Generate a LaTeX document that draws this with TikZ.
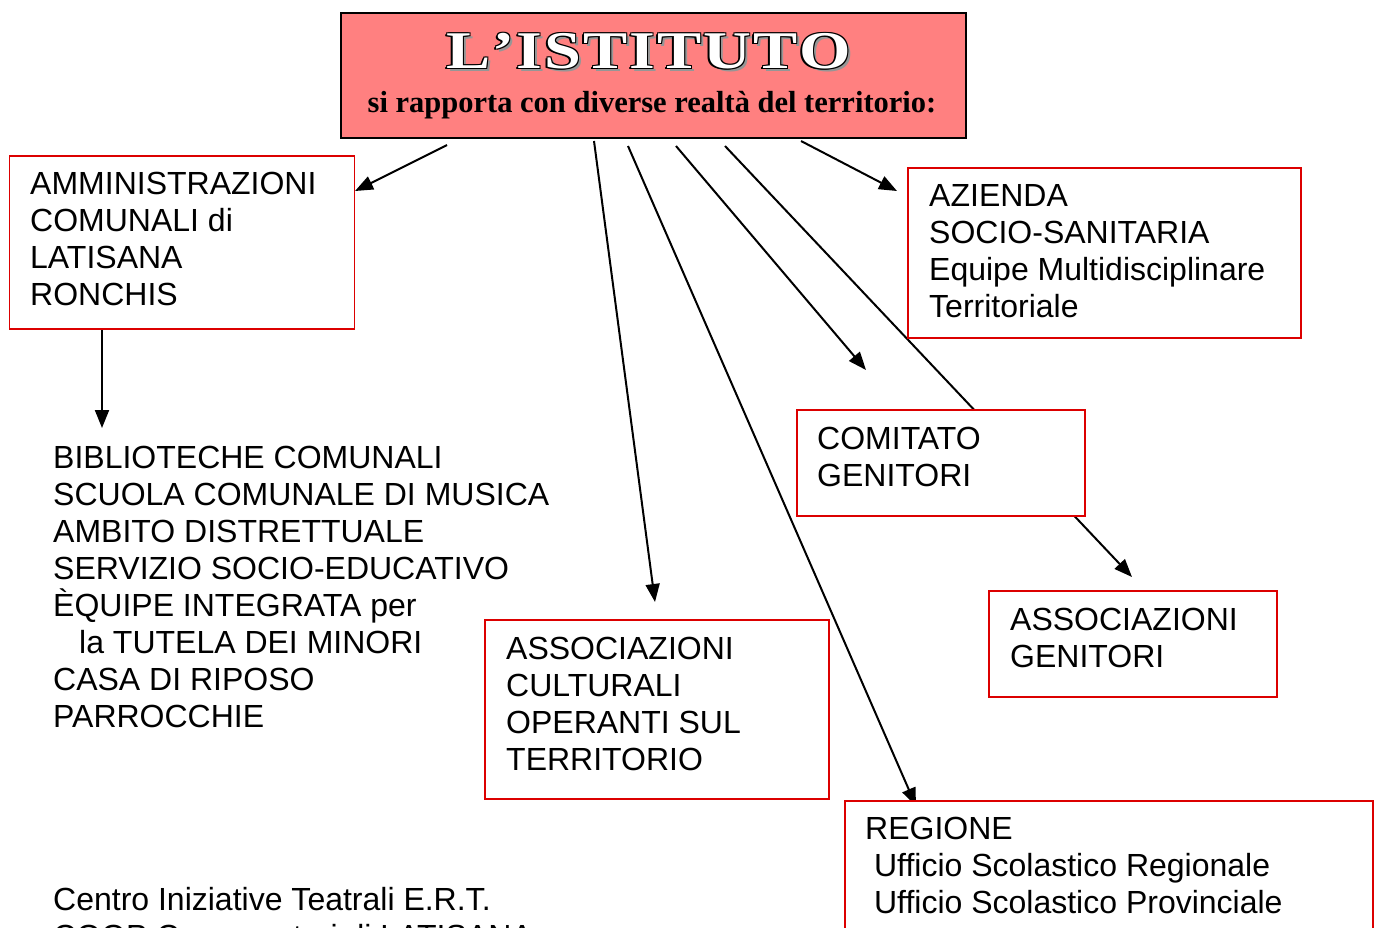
\documentclass[tikz,border=0pt]{standalone}
\usepackage{fontspec}
\setmainfont{Liberation Sans}
\newfontfamily\ttlfont{Liberation Serif}
\newfontfamily\ttlwide[FakeStretch=1.25]{Liberation Serif}
\usetikzlibrary{arrows.meta}
\definecolor{boxred}{RGB}{220,0,0}
\definecolor{titlepink}{RGB}{255,128,128}
\definecolor{shadowgray}{RGB}{150,150,150}
\newcommand\tk{\kern 2pt}
\newcommand\ttltext{L\tk’\tk I\tk S\tk T\tk I\tk T\tk U\tk T\tk O}
\pgfdeclarelayer{bg}
\pgfsetlayers{bg,main}
\begin{document}
\begin{tikzpicture}[x=1pt,y=-1pt,
  redbox/.style={draw=boxred, line width=1.8pt, fill=white, inner sep=0pt, anchor=north west},
  txt/.style={anchor=north west, inner sep=0pt, align=left, font=\fontsize{32}{37}\selectfont},
  conn/.style={line width=2pt, -{Triangle[length=18pt,width=14pt]}},
  ttl/.style={anchor=base, inner sep=0pt, font=\ttlwide\bfseries\fontsize{53}{53}\selectfont},
  ]
\useasboundingbox (0,0) rectangle (1376,927);
% title box
\node[draw=black, line width=1.8pt, fill=titlepink, anchor=north west, inner sep=0pt,
      minimum width=625pt, minimum height=125pt] (title) at (340,12) {};
\node[ttl, text=shadowgray] (ttlsh) at (652,71) {\ttltext};
\node[ttl, text=black] (ttlk1) at (647,69) {\ttltext};
\node[ttl, text=black] (ttlk2) at (648,67) {\ttltext};
\node[ttl, text=black] (ttlk3) at (650,67) {\ttltext};
\node[ttl, text=black] (ttlk4) at (648,69) {\ttltext};
\node[ttl, text=black] (ttlk5) at (650,69) {\ttltext};
\node[ttl, text=white] (ttlw) at (649,68) {\ttltext};
\node[anchor=base, inner sep=0pt, font=\ttlfont\bfseries\fontsize{30.5}{30.5}\selectfont] (sub) at (652,112)
  {si rapporta con diverse realtà del territorio:};

% boxes
\node[redbox, minimum width=345pt, minimum height=173pt] (amm) at (8.5,155) {};
\node[txt] (ammt) at (30,171.5) {AMMINISTRAZIONI\\COMUNALI di\\LATISANA\\RONCHIS};

\node[redbox, minimum width=393pt, minimum height=170pt] (azi) at (907,167) {};
\node[txt] (azit) at (929,184) {AZIENDA\\SOCIO-SANITARIA\\Equipe Multidisciplinare\\Territoriale};

\node[redbox, minimum width=288pt, minimum height=106pt] (com) at (796,409) {};
\node[txt] (comt) at (817,427) {COMITATO\\GENITORI};

\node[redbox, minimum width=288pt, minimum height=106pt] (asg) at (988,590) {};
\node[txt] (asgt) at (1010,608) {ASSOCIAZIONI\\GENITORI};

\node[redbox, minimum width=344pt, minimum height=179pt] (asc) at (484,619) {};
\node[txt] (asct) at (506,637) {ASSOCIAZIONI\\CULTURALI\\OPERANTI SUL\\TERRITORIO};

\node[redbox, minimum width=528pt, minimum height=180pt] (reg) at (844,800) {};
\node[txt] (regt) at (865,817) {REGIONE\\\hspace*{8.9pt}Ufficio Scolastico Regionale\\\hspace*{8.9pt}Ufficio Scolastico Provinciale};

\node[txt] (bib) at (53,445.5) {BIBLIOTECHE COMUNALI\\SCUOLA COMUNALE DI MUSICA\\AMBITO DISTRETTUALE\\SERVIZIO SOCIO-EDUCATIVO\\ÈQUIPE INTEGRATA per\\\hspace*{26pt}la TUTELA DEI MINORI\\CASA DI RIPOSO\\PARROCCHIE};

\node[txt] (cen) at (53,887.5) {Centro Iniziative Teatrali E.R.T.\\COOP Consumatori di LATISANA};

% connector endpoints
\coordinate (s1) at (447,145);  \coordinate (e1) at (355,191);
\coordinate (s2) at (801,141);  \coordinate (e2) at (897,191);
\coordinate (s3) at (594,141);  \coordinate (e3) at (655,602);
\coordinate (s4) at (628,146);  \coordinate (e4) at (916,806);
\coordinate (s5) at (676,146);  \coordinate (e5) at (866,370);
\coordinate (s6) at (725,146);  \coordinate (e6) at (1132,577);
\coordinate (s7) at (102,328);  \coordinate (e7) at (102,428);

\begin{pgfonlayer}{bg}
\draw[conn] (s1) -- (e1);
\draw[conn] (s2) -- (e2);
\draw[conn] (s3) -- (e3);
\draw[conn] (s4) -- (e4);
\draw[conn] (s5) -- (e5);
\draw[conn] (s6) -- (e6);
\draw[conn] (s7) -- (e7);
\end{pgfonlayer}
\end{tikzpicture}
\end{document}
